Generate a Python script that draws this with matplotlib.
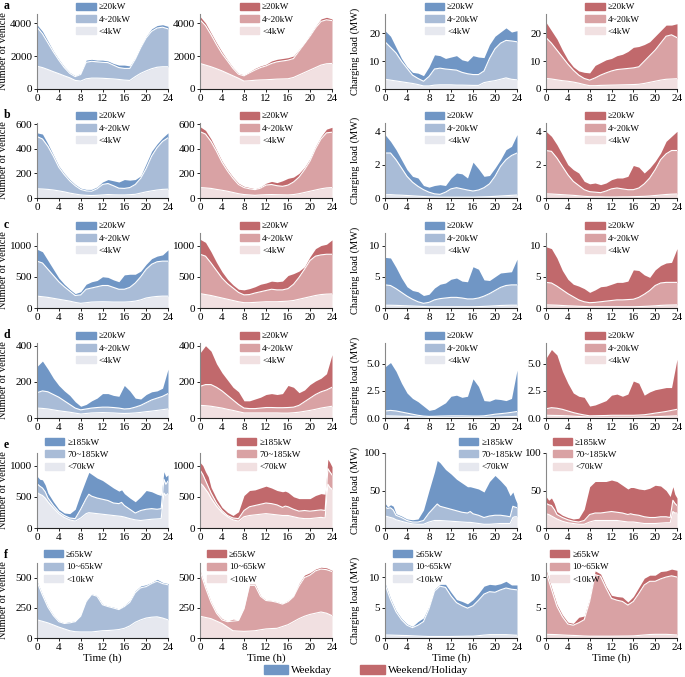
import matplotlib.pyplot as plt
from matplotlib.patches import Patch
from matplotlib.ticker import FormatStrFormatter
import numpy as np

plt.rcParams['font.family'] = ['Liberation Serif', 'DejaVu Serif']
plt.rcParams['font.size'] = 7.5

# time axes (h)
hours = list(range(25))
hours_e = [0, 0.5, 1, 1.5, 2, 3, 4, 5, 6, 7, 8, 9, 9.5, 10, 11, 12, 13, 14, 15, 15.5,
           16, 17, 18, 19, 20, 21, 22, 22.75, 23.25, 23.6, 24]

# each panel: [top of low band, top of middle band, total] (stacked boundaries)
# row a
a_veh_wd = [[1380, 1300, 1180, 1050, 930, 800, 680, 520, 480, 620, 660, 660, 650, 630, 610, 580, 540, 520, 750, 950, 1100, 1230, 1320, 1350, 1350],
            [3750, 3350, 2800, 2250, 1750, 1300, 950, 750, 880, 1620, 1680, 1650, 1620, 1600, 1450, 1300, 1250, 1250, 1800, 2500, 3100, 3500, 3700, 3750, 3650],
            [3900, 3500, 2900, 2300, 1800, 1350, 1000, 800, 950, 1750, 1800, 1750, 1750, 1700, 1550, 1450, 1450, 1400, 1900, 2600, 3200, 3650, 3850, 3900, 3800]]
a_veh_we = [[1550, 1450, 1350, 1230, 1100, 950, 800, 650, 480, 500, 530, 550, 560, 580, 600, 610, 620, 700, 850, 1000, 1150, 1300, 1450, 1530, 1550],
            [4200, 3850, 3300, 2700, 2150, 1700, 1250, 900, 800, 980, 1150, 1300, 1400, 1550, 1650, 1700, 1750, 1850, 2300, 2750, 3200, 3700, 4100, 4200, 4150],
            [4400, 4000, 3400, 2800, 2250, 1750, 1300, 950, 850, 1050, 1250, 1400, 1500, 1700, 1800, 1850, 1900, 2000, 2400, 2800, 3300, 3800, 4250, 4350, 4250]]
a_load_wd = [[3.5, 3.2, 2.9, 2.6, 2.3, 2.0, 1.6, 1.1, 1.1, 1.4, 1.5, 1.5, 1.5, 1.4, 1.4, 1.35, 1.3, 1.3, 2.3, 2.7, 3.0, 3.5, 4.0, 3.5, 3.3],
             [17, 15, 13, 10, 7.5, 5, 3.8, 2.8, 4.5, 7.2, 7.5, 7.2, 7, 6.8, 6, 5.5, 5.2, 5.2, 6.5, 11, 14.5, 16.5, 17.5, 17.3, 17],
             [21, 19, 15, 11, 8, 6, 5.7, 4.8, 8, 12.3, 12, 11, 11.5, 12, 10.5, 10, 12, 11.5, 11.3, 16, 19, 20.5, 22, 20.5, 21]]
a_load_we = [[3.8, 3.6, 3.3, 3.0, 2.8, 2.5, 2.1, 1.6, 1.2, 1.2, 1.3, 1.35, 1.4, 1.45, 1.5, 1.55, 1.6, 1.7, 2.0, 2.4, 2.8, 3.2, 3.5, 3.6, 3.7],
             [18.5, 16.5, 14, 11.5, 9, 6.8, 5, 3.8, 3.2, 4, 5, 5.8, 6.5, 7, 7.2, 7.4, 7.6, 8, 10, 12, 14, 16.5, 19, 19.5, 18.5],
             [24, 21, 18, 14, 10.5, 8, 6.5, 6, 5.8, 8.5, 9.5, 10.5, 11, 12, 12.5, 13.5, 15, 15.3, 16, 17, 19, 21, 23, 23, 23.5]]
# row b
b_veh_wd = [[75, 73, 70, 65, 58, 50, 40, 32, 25, 22, 20, 22, 25, 28, 26, 25, 25, 27, 30, 40, 50, 58, 65, 70, 72],
            [500, 480, 420, 340, 250, 190, 140, 100, 70, 58, 55, 75, 110, 118, 100, 80, 78, 85, 110, 160, 240, 340, 410, 460, 490],
            [530, 520, 440, 350, 260, 200, 150, 110, 80, 70, 70, 90, 130, 150, 140, 130, 150, 145, 150, 180, 280, 380, 440, 490, 530]]
b_veh_we = [[85, 82, 78, 70, 63, 55, 45, 35, 28, 25, 22, 25, 27, 28, 27, 26, 25, 28, 35, 45, 55, 65, 75, 82, 85],
            [540, 520, 460, 380, 290, 220, 160, 110, 85, 75, 68, 80, 105, 110, 100, 95, 105, 130, 170, 230, 300, 400, 480, 530, 535],
            [580, 550, 480, 390, 300, 230, 170, 120, 95, 85, 75, 90, 120, 135, 125, 140, 160, 170, 200, 250, 320, 420, 500, 560, 575]]
b_load_wd = [[0.2, 0.2, 0.18, 0.17, 0.15, 0.13, 0.11, 0.09, 0.07, 0.06, 0.05, 0.05, 0.05, 0.05, 0.05, 0.05, 0.05, 0.06, 0.07, 0.08, 0.1, 0.12, 0.14, 0.16, 0.18],
             [2.7, 2.7, 2.3, 1.8, 1.3, 0.95, 0.7, 0.5, 0.35, 0.25, 0.22, 0.35, 0.55, 0.62, 0.55, 0.48, 0.42, 0.48, 0.62, 0.85, 1.3, 1.9, 2.3, 2.55, 2.7],
             [3.8, 3.4, 2.9, 2.3, 1.7, 1.3, 1.2, 0.75, 0.65, 0.75, 0.8, 0.75, 1.2, 1.5, 1.45, 1.2, 2.15, 1.75, 1.3, 1.35, 1.8, 2.3, 2.9, 3.1, 3.8]]
b_load_we = [[0.25, 0.24, 0.22, 0.2, 0.18, 0.16, 0.13, 0.1, 0.08, 0.07, 0.07, 0.06, 0.06, 0.06, 0.07, 0.07, 0.08, 0.09, 0.1, 0.12, 0.15, 0.18, 0.21, 0.23, 0.24],
             [2.85, 2.8, 2.4, 1.9, 1.4, 1.0, 0.75, 0.5, 0.38, 0.35, 0.32, 0.42, 0.55, 0.6, 0.55, 0.5, 0.5, 0.6, 0.85, 1.2, 1.7, 2.3, 2.65, 2.85, 2.85],
             [4.0, 3.7, 3.2, 2.6, 2.0, 1.7, 1.5, 1.0, 0.85, 0.9, 0.8, 0.9, 1.1, 1.2, 1.2, 1.3, 1.95, 1.85, 1.5, 1.8, 2.2, 2.7, 3.4, 3.7, 4.0]]
# row c
c_veh_wd = [[190, 180, 170, 155, 140, 125, 110, 90, 75, 85, 95, 98, 100, 98, 95, 95, 95, 100, 110, 130, 160, 175, 185, 190, 190],
            [750, 720, 620, 520, 420, 340, 270, 200, 210, 300, 320, 340, 360, 360, 330, 300, 300, 330, 400, 500, 620, 700, 740, 750, 750],
            [940, 900, 760, 620, 480, 380, 300, 230, 260, 380, 420, 440, 500, 490, 450, 420, 530, 540, 540, 590, 700, 790, 830, 850, 930]]
c_veh_we = [[230, 215, 200, 180, 160, 140, 120, 100, 85, 85, 90, 95, 100, 100, 100, 105, 110, 120, 140, 160, 180, 200, 215, 222, 225],
            [860, 830, 720, 600, 480, 390, 320, 250, 210, 215, 240, 260, 280, 300, 290, 290, 310, 380, 490, 620, 760, 830, 850, 860, 860],
            [1100, 1050, 900, 730, 580, 460, 370, 300, 290, 310, 340, 380, 400, 430, 420, 430, 520, 550, 590, 660, 820, 950, 1000, 1020, 1090]]
c_load_wd = [[0.45, 0.44, 0.42, 0.38, 0.35, 0.32, 0.28, 0.24, 0.2, 0.2, 0.2, 0.2, 0.2, 0.2, 0.2, 0.2, 0.2, 0.22, 0.26, 0.3, 0.35, 0.4, 0.43, 0.45, 0.45],
             [3.7, 3.6, 3.1, 2.5, 1.9, 1.4, 1.0, 0.75, 0.9, 1.3, 1.5, 1.6, 1.7, 1.7, 1.6, 1.45, 1.45, 1.6, 1.9, 2.3, 2.8, 3.3, 3.6, 3.7, 3.7],
             [8.1, 8.0, 6.5, 4.8, 3.4, 2.8, 2.6, 2.0, 2.2, 3.2, 3.8, 4.0, 4.6, 4.8, 4.3, 4.2, 6.6, 6.2, 4.5, 4.4, 5.0, 5.6, 5.7, 5.8, 7.8]]
c_load_we = [[0.5, 0.48, 0.45, 0.4, 0.35, 0.32, 0.28, 0.24, 0.2, 0.2, 0.2, 0.2, 0.2, 0.2, 0.2, 0.2, 0.2, 0.22, 0.26, 0.3, 0.35, 0.42, 0.46, 0.48, 0.5],
             [4.1, 4.0, 3.5, 2.9, 2.3, 1.8, 1.3, 1.0, 0.85, 0.9, 1.0, 1.1, 1.2, 1.3, 1.3, 1.35, 1.4, 1.7, 2.2, 2.8, 3.6, 4.0, 4.1, 4.1, 4.1],
             [9.8, 9.5, 8.0, 6.0, 4.6, 3.8, 3.5, 3.1, 2.5, 2.9, 3.4, 3.5, 3.8, 4.1, 4.1, 4.3, 6.1, 6.0, 5.3, 4.9, 6.1, 6.8, 7.2, 7.3, 9.5]]
# row d
d_veh_wd = [[55, 53, 50, 45, 40, 36, 32, 27, 22, 25, 28, 29, 30, 29, 28, 26, 25, 26, 28, 31, 35, 38, 42, 46, 50],
            [140, 150, 145, 130, 115, 95, 75, 55, 45, 50, 55, 58, 60, 60, 58, 55, 50, 52, 60, 70, 85, 100, 110, 120, 135],
            [285, 315, 270, 220, 180, 150, 125, 90, 65, 75, 95, 110, 135, 135, 125, 120, 180, 150, 110, 105, 130, 145, 150, 165, 270]]
d_veh_we = [[70, 68, 65, 60, 55, 48, 42, 35, 28, 28, 28, 28, 28, 28, 28, 27, 27, 29, 32, 37, 42, 48, 55, 60, 65],
            [175, 185, 185, 170, 150, 125, 100, 75, 55, 52, 52, 55, 58, 58, 57, 57, 58, 60, 70, 90, 110, 130, 145, 155, 170],
            [360, 400, 370, 300, 250, 210, 170, 145, 95, 95, 105, 115, 130, 135, 130, 135, 180, 170, 140, 155, 185, 205, 220, 245, 350]]
d_load_wd = [[0.2, 0.19, 0.18, 0.16, 0.15, 0.12, 0.1, 0.07, 0.05, 0.05, 0.05, 0.05, 0.05, 0.05, 0.05, 0.05, 0.05, 0.05, 0.06, 0.07, 0.08, 0.1, 0.12, 0.13, 0.15],
             [0.65, 0.7, 0.65, 0.55, 0.45, 0.35, 0.25, 0.18, 0.15, 0.16, 0.18, 0.19, 0.2, 0.2, 0.2, 0.19, 0.18, 0.18, 0.2, 0.27, 0.35, 0.4, 0.45, 0.52, 0.6],
             [4.7, 5.1, 4.3, 3.2, 2.3, 1.8, 1.5, 1.1, 0.7, 0.8, 1.1, 1.4, 2.0, 2.1, 1.9, 2.0, 3.6, 2.9, 1.6, 1.55, 1.75, 1.7, 1.6, 1.8, 4.4]]
d_load_we = [[0.25, 0.24, 0.23, 0.22, 0.2, 0.17, 0.14, 0.11, 0.08, 0.08, 0.08, 0.08, 0.08, 0.08, 0.08, 0.08, 0.08, 0.09, 0.1, 0.11, 0.12, 0.14, 0.16, 0.18, 0.2],
             [0.85, 0.95, 0.9, 0.8, 0.65, 0.5, 0.38, 0.28, 0.2, 0.21, 0.22, 0.23, 0.25, 0.25, 0.25, 0.25, 0.25, 0.27, 0.3, 0.37, 0.45, 0.52, 0.6, 0.7, 0.8],
             [5.5, 6.3, 5.8, 4.3, 3.2, 2.3, 2.0, 1.9, 1.1, 1.2, 1.4, 1.6, 2.1, 2.2, 2.0, 2.2, 3.4, 3.2, 2.1, 2.4, 2.6, 2.7, 2.8, 2.8, 5.4]]
# row e (finer time steps, see hours_e)
e_veh_wd = [[570, 540, 520, 480, 420, 320, 230, 170, 130, 110, 160, 230, 245, 240, 230, 220, 210, 200, 190, 185, 175, 150, 130, 120, 130, 140, 145, 150, 560, 520, 550],
            [710, 670, 640, 580, 480, 360, 260, 200, 160, 150, 300, 470, 540, 510, 480, 460, 440, 400, 390, 410, 360, 300, 240, 280, 300, 310, 300, 310, 780, 700, 750],
            [830, 780, 770, 690, 560, 420, 300, 240, 230, 300, 550, 780, 890, 860, 800, 760, 700, 640, 590, 610, 550, 480, 420, 500, 600, 580, 540, 520, 900, 820, 850]]
e_veh_we = [[720, 680, 620, 560, 480, 350, 250, 180, 130, 110, 180, 200, 205, 210, 220, 230, 220, 210, 200, 200, 200, 180, 160, 150, 150, 160, 170, 160, 700, 650, 620],
            [930, 860, 760, 660, 560, 400, 280, 200, 160, 150, 280, 340, 350, 360, 380, 400, 390, 370, 330, 350, 340, 300, 270, 280, 270, 280, 290, 280, 950, 900, 850],
            [1050, 1000, 900, 820, 650, 470, 330, 250, 200, 260, 520, 600, 605, 610, 640, 670, 640, 600, 580, 590, 570, 500, 470, 470, 470, 520, 550, 540, 1100, 1050, 980]]
e_load_wd = [[16, 15, 14, 13, 11, 9, 7, 5.5, 5, 5, 8, 10, 10, 10, 9.5, 9, 8.5, 8, 7.5, 7.5, 7, 6, 5, 5, 5.5, 6, 6, 6, 14, 15, 15],
             [28, 26, 27, 24, 17, 14, 10, 8, 8, 10, 20, 28, 32, 29, 27, 25, 23, 21, 20, 22, 19, 17, 14, 16, 17, 17, 16, 15, 29, 28, 27],
             [33, 28, 31, 29, 19, 16, 12, 11, 12, 24, 50, 75, 90, 87, 78, 72, 65, 60, 55, 55, 54, 52, 48, 62, 70, 63, 55, 43, 48, 40, 33]]
e_load_we = [[19, 18, 16, 14, 12, 9, 7, 6, 5, 5, 8, 10, 10, 10, 10, 10, 10, 9, 8, 8, 8, 7, 6, 6, 6, 6.5, 7, 7, 22, 20, 20],
             [33, 31, 30, 25, 18, 14, 11, 9, 8, 10, 18, 20, 20, 20, 21, 22, 21, 20, 18, 19, 18, 17, 15, 14, 14, 15, 15, 14, 37, 33, 30],
             [42, 37, 40, 33, 22, 17, 14, 12, 13, 25, 55, 62, 62, 62, 62, 64, 62, 57, 52, 54, 54, 52, 51, 53, 57, 56, 50, 42, 55, 45, 40]]
# row f
f_veh_wd = [[150, 138, 125, 108, 90, 75, 60, 52, 50, 50, 50, 55, 60, 62, 65, 70, 80, 100, 130, 150, 165, 172, 175, 165, 150],
            [465, 355, 255, 185, 135, 120, 125, 135, 180, 300, 360, 345, 275, 260, 248, 235, 260, 295, 375, 415, 425, 450, 470, 450, 440],
            [470, 360, 260, 190, 140, 125, 135, 140, 190, 310, 365, 350, 280, 265, 255, 240, 270, 310, 390, 430, 440, 460, 485, 460, 450]]
f_veh_we = [[180, 170, 160, 140, 120, 90, 60, 57, 55, 57, 60, 68, 75, 78, 80, 95, 110, 135, 160, 180, 195, 205, 215, 205, 185],
            [555, 415, 295, 205, 150, 135, 140, 145, 240, 435, 435, 345, 310, 305, 295, 280, 300, 340, 430, 500, 520, 555, 570, 565, 550],
            [560, 420, 300, 210, 160, 140, 155, 150, 250, 445, 445, 350, 315, 310, 300, 285, 310, 350, 450, 520, 540, 570, 585, 580, 560]]
f_load_wd = [[0.5, 0.48, 0.45, 0.42, 0.4, 0.36, 0.32, 0.28, 0.25, 0.25, 0.25, 0.25, 0.25, 0.27, 0.28, 0.3, 0.3, 0.38, 0.48, 0.55, 0.55, 0.55, 0.55, 0.5, 0.45],
             [8.8, 6.3, 4.3, 3.0, 2.1, 1.7, 2.1, 2.7, 4.8, 7.7, 8.5, 8.3, 6.9, 5.8, 5.3, 4.9, 5.3, 6.2, 7.2, 7.6, 7.5, 7.9, 8.2, 8.0, 7.9],
             [9.0, 6.5, 4.5, 3.2, 2.3, 1.9, 2.7, 3.3, 5.2, 8.0, 8.8, 8.8, 7.5, 6.3, 6.0, 5.6, 6.3, 7.3, 8.5, 8.8, 8.7, 8.9, 9.3, 8.7, 8.7]]
f_load_we = [[0.6, 0.58, 0.55, 0.5, 0.45, 0.42, 0.38, 0.33, 0.3, 0.3, 0.3, 0.3, 0.3, 0.31, 0.32, 0.33, 0.35, 0.42, 0.5, 0.57, 0.6, 0.6, 0.6, 0.55, 0.5],
             [10.9, 8.0, 5.2, 3.5, 2.3, 2.1, 2.5, 3.0, 6.0, 10.4, 10.1, 8.2, 6.5, 6.2, 6.0, 5.4, 6.0, 7.3, 8.7, 9.3, 9.3, 9.7, 10.0, 10.2, 10.0],
             [11.2, 8.3, 5.5, 3.8, 2.6, 2.4, 3.4, 3.6, 6.5, 11.0, 10.5, 8.5, 7.0, 6.8, 6.7, 5.9, 6.8, 8.3, 9.8, 10.3, 10.3, 10.9, 11.0, 11.3, 11.1]]

power_labels = [
    ['<4kW', '4~20kW', '≥20kW'],
    ['<4kW', '4~20kW', '≥20kW'],
    ['<4kW', '4~20kW', '≥20kW'],
    ['<4kW', '4~20kW', '≥20kW'],
    ['<70kW', '70~185kW', '≥185kW'],
    ['<10kW', '10~65kW', '≥65kW'],
]
row_letters = ['a', 'b', 'c', 'd', 'e', 'f']

blue = ['#e6e8ef', '#a9bcd7', '#7096c5']
red = ['#f1e0e1', '#d9a2a4', '#c1696c']

panels = [
    [a_veh_wd, a_veh_we, a_load_wd, a_load_we],
    [b_veh_wd, b_veh_we, b_load_wd, b_load_we],
    [c_veh_wd, c_veh_we, c_load_wd, c_load_we],
    [d_veh_wd, d_veh_we, d_load_wd, d_load_we],
    [e_veh_wd, e_veh_we, e_load_wd, e_load_we],
    [f_veh_wd, f_veh_we, f_load_wd, f_load_we],
]
row_hours = [hours, hours, hours, hours, hours_e, hours]

veh_ylim = [4550, 610, 1200, 415, 1200, 620]
load_ylim = [27, 4.5, 12, 6.9, 100, 12.3]
veh_ticks = [[0, 2000, 4000], [0, 200, 400, 600], [0, 500, 1000], [0, 200, 400], [0, 500, 1000], [0, 250, 500]]
load_ticks = [[0, 10, 20], [0, 2, 4], [0, 5, 10], [0, 2.5, 5], [0, 50, 100], [0, 5, 10]]

W, H = 685, 677
col_left = [37, 200, 385, 546]
col_width = [131, 132, 132, 131]
row_top = [14, 123, 233, 343, 453, 563]
ax_h = 75

legend_x = [
    [0.30, 0.30, 0.30, 0.30],
    [0.30, 0.30, 0.30, 0.30],
    [0.30, 0.30, 0.30, 0.30],
    [0.30, 0.30, 0.30, 0.30],
    [0.06, 0.28, 0.56, 0.05],
    [0.05, 0.05, 0.06, 0.03],
]
legend_y = [1.15, 1.15, 1.15, 1.15, 1.20, 1.17]

fig = plt.figure(figsize=(W / 100, H / 100), dpi=100)

for r in range(6):
    t = np.array(row_hours[r])
    for c in range(4):
        ax = fig.add_axes([col_left[c] / W, 1 - (row_top[r] + ax_h) / H,
                           col_width[c] / W, ax_h / H])
        low, mid, total = [np.array(v, dtype=float) for v in panels[r][c]]
        cols = blue if c % 2 == 0 else red
        ax.fill_between(t, 0, low, color=cols[0], lw=0)
        ax.fill_between(t, low, mid, color=cols[1], lw=0)
        ax.fill_between(t, mid, total, color=cols[2], lw=0)
        ax.plot(t, low, color='white', lw=0.8)
        ax.plot(t, mid, color='white', lw=0.8)

        ax.set_xlim(0, 24)
        ax.set_xticks([0, 4, 8, 12, 16, 20, 24])
        if c < 2:
            ax.set_ylim(0, veh_ylim[r])
            ax.set_yticks(veh_ticks[r])
        else:
            ax.set_ylim(0, load_ylim[r])
            ax.set_yticks(load_ticks[r])
            if r == 3:
                ax.yaxis.set_major_formatter(FormatStrFormatter('%.1f'))
        for s in ['top', 'right']:
            ax.spines[s].set_visible(False)
        ax.spines['left'].set_color('#888888')
        ax.spines['bottom'].set_color('#222222')
        ax.spines['left'].set_linewidth(0.8)
        ax.spines['bottom'].set_linewidth(0.8)
        ax.tick_params(length=2.5, width=0.6, pad=1, labelsize=8)

        if c == 0:
            ax.set_ylabel('Number of vehicle', fontsize=7.5)
            ax.yaxis.set_label_coords(-0.22, 0.5)
        if c == 2:
            ax.set_ylabel('Charging load (MW)', fontsize=7.5)
            ax.yaxis.set_label_coords(-0.19, 0.5)
        if r == 5:
            ax.set_xlabel('Time (h)', fontsize=8, labelpad=1)

        labels = power_labels[r]
        handles = [Patch(color=cols[2]), Patch(color=cols[1]), Patch(color=cols[0])]
        ax.legend(handles, [labels[2], labels[1], labels[0]], loc='upper left',
                  bbox_to_anchor=(legend_x[r][c], legend_y[r]), frameon=False,
                  fontsize=6.6, borderpad=0, handlelength=2.1, handleheight=0.8,
                  handletextpad=0.35, labelspacing=0.4, borderaxespad=0)

    fig.text(4 / W, 1 - (row_top[r] - 14) / H, row_letters[r], fontsize=8.5,
             fontweight='bold', va='top', ha='left')

fig.legend([Patch(color=blue[2]), Patch(color=red[2])], ['Weekday', 'Weekend/Holiday'],
           loc='center', bbox_to_anchor=(366 / W, 1 - 670 / H), ncol=2, frameon=False,
           fontsize=8, handlelength=2.2, handleheight=0.9, handletextpad=0.3,
           columnspacing=2.5, borderpad=0)

fig.savefig('out.png', dpi=100)
